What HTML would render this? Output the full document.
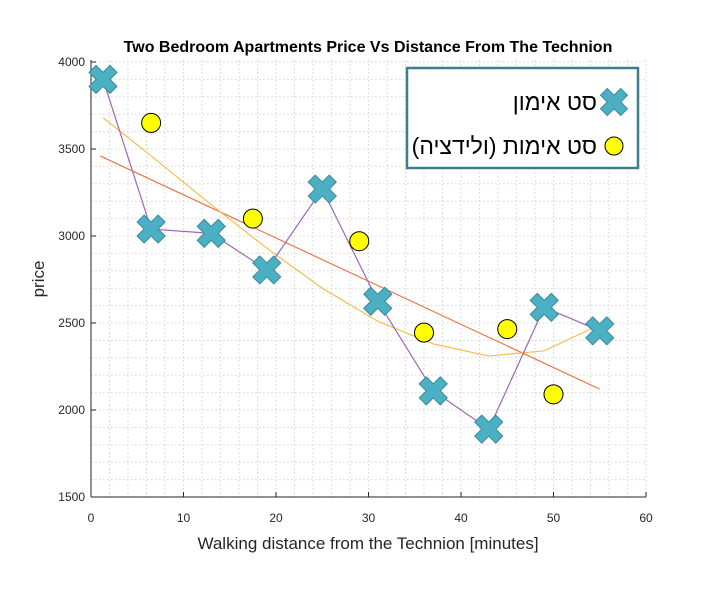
<!DOCTYPE html>
<html><head><meta charset="utf-8">
<style>
body{margin:0;background:#fff;}
svg{display:block;font-family:"Liberation Sans","Noto Sans CJK SC",sans-serif;}
</style></head>
<body>
<svg id="chart" width="706" height="590" viewBox="0 0 706 590" xmlns="http://www.w3.org/2000/svg">
<rect width="706" height="590" fill="#fff"/>
<g id="grid"></g>
<g id="axes"></g>
<g id="series"></g>
<text x="368" y="52" text-anchor="middle" font-size="16" font-weight="bold" fill="#000">Two Bedroom Apartments Price Vs Distance From The Technion</text>
<text x="368" y="549" text-anchor="middle" font-size="17" fill="#262626">Walking distance from the Technion [minutes]</text>
<text transform="translate(44,279) rotate(-90)" text-anchor="middle" font-size="17" fill="#262626">price</text>
<g>
<rect x="407" y="68" width="231" height="100" fill="#fff" stroke="#3a7f8a" stroke-width="2.5"/>
<text x="597" y="110" text-anchor="start" font-size="23" direction="rtl" fill="#000">סט אימון</text>
<path d="" id="legX"/>
<text x="597" y="154" text-anchor="start" font-size="23" direction="rtl" fill="#000">סט אימות (ולידציה)</text>
<circle cx="614" cy="146" r="9" fill="#ffff00" stroke="#000" stroke-width="1"/>
</g>
</svg>
<script>
const trainX=[1.3,6.5,13,19,25,31,37,43,49,55];
const trainY=[3900,3040,3015,2805,3270,2625,2110,1890,2590,2455];
const valX=[6.5,17.5,29,36,45,50];
const valY=[3650,3100,2970,2445,2465,2090];
const linX=[1,55];
const linY=[3460,2120];
const quadX=[1.3,6.5,13,19,25,31,37,43,49,55];
const quadY=[3680,3460,3180,2930,2700,2510,2380,2310,2340,2490];
const xTicks=[0,10,20,30,40,50,60];
const yTicks=[1500,2000,2500,3000,3500,4000];
const X0=91,X1=646,Y0=497,Y1=62;
const sx=v=>X0+(v-0)/60*(X1-X0);
const sy=v=>Y0-(v-1500)/2500*(Y0-Y1);
const NS='http://www.w3.org/2000/svg';
function mk(t,a,p){const e=document.createElementNS(NS,t);for(const k in a)e.setAttribute(k,a[k]);p.appendChild(e);return e;}
const grid=document.getElementById('grid'),axes=document.getElementById('axes'),ser=document.getElementById('series');
for(let v=0;v<=60;v+=2){if(v===0)continue;const l=mk('line',{x1:sx(v),x2:sx(v),y1:Y1-2,y2:Y0,stroke:'#d4d4d4','stroke-width':1,'stroke-dasharray':'1.5,2.5'},grid);}
for(let v=1600;v<=4000;v+=100){const l=mk('line',{x1:X0,x2:X1,y1:sy(v),y2:sy(v),stroke:'#d4d4d4','stroke-width':1,'stroke-dasharray':'1.5,2.5'},grid);}
let a=mk('line',{x1:X0,x2:X1,y1:Y0,y2:Y0,stroke:'#262626','stroke-width':1},axes);
a=mk('line',{x1:X0,x2:X0,y1:Y1-2,y2:Y0,stroke:'#262626','stroke-width':1},axes);
xTicks.forEach(v=>{mk('line',{x1:sx(v),x2:sx(v),y1:Y0,y2:Y0-5,stroke:'#262626'},axes);const t=mk('text',{x:sx(v),y:Y0+25,'text-anchor':'middle','font-size':12,fill:'#262626'},axes);t.textContent=v;});
yTicks.forEach(v=>{mk('line',{x1:X0,x2:X0+5,y1:sy(v),y2:sy(v),stroke:'#262626'},axes);const t=mk('text',{x:X0-6,y:sy(v)+4,'text-anchor':'end','font-size':12,fill:'#262626'},axes);t.textContent=v;});
function poly(xs,ys,c,n){const p=mk('polyline',{points:xs.map((x,i)=>sx(x)+','+sy(ys[i])).join(' '),fill:'none',stroke:c,'stroke-width':1.2},ser);}
poly(linX,linY,'#e8784a','linear-fit-line');
poly(quadX,quadY,'#f5be4f','quadratic-fit-line');
poly(trainX,trainY,'#a066b5','training-line');
function xPath(cx,cy,s){const a=s*0.5,b=s;return `M${cx-b},${cy-b+a}L${cx-b+a},${cy-b}L${cx},${cy-a}L${cx+b-a},${cy-b}L${cx+b},${cy-b+a}L${cx+a},${cy}L${cx+b},${cy+b-a}L${cx+b-a},${cy+b}L${cx},${cy+a}L${cx-b+a},${cy+b}L${cx-b},${cy+b-a}L${cx-a},${cy}Z`;}
trainX.forEach((x,i)=>{const p=mk('path',{d:xPath(sx(x),sy(trainY[i]),14),fill:'#4bb0c4',stroke:'#3a8a9a','stroke-width':1},ser);});
valX.forEach((x,i)=>{const c=mk('circle',{cx:sx(x),cy:sy(valY[i]),r:9.5,fill:'#ffff00',stroke:'#000','stroke-width':1},ser);});
const lx=document.getElementById('legX');lx.setAttribute('d',xPath(614,102,13.5));lx.setAttribute('fill','#4bb0c4');lx.setAttribute('stroke','#3a8a9a');
</script>
</body></html>
